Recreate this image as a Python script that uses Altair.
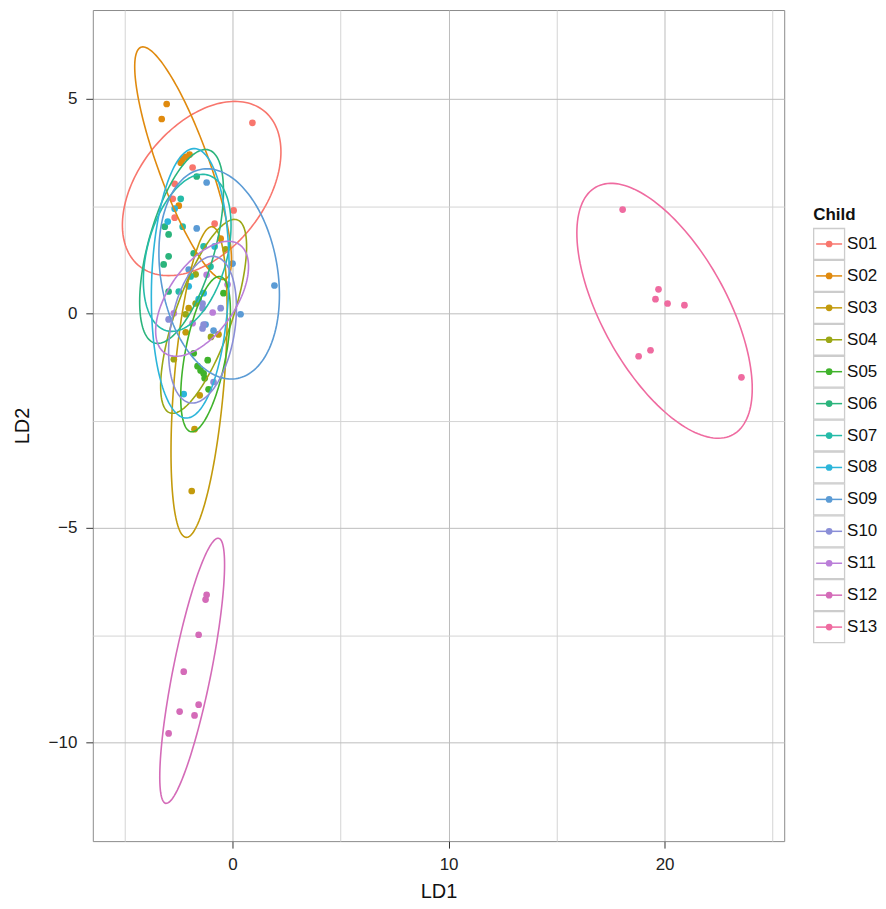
import altair as alt
import numpy as np
import pandas as pd

children = ["S01", "S02", "S03", "S04", "S05", "S06", "S07",
            "S08", "S09", "S10", "S11", "S12", "S13"]
colors = ["#F8766D", "#E08A0E", "#C39A0C", "#9BA715", "#40B32C", "#2BB47C", "#25BBA8",
          "#2CB5DA", "#5B9BD5", "#8A8ED7", "#BA7ED8", "#D46BB8", "#EF6BA0"]

# LD1 / LD2 scores per child
ld1_s01 = [0.92, -1.85, -2.68, -2.77, -2.68, -0.83, 0.05]
ld2_s01 = [4.44, 3.40, 3.02, 2.67, 2.23, 2.09, 2.40]
ld1_s02 = [-3.05, -3.28, -2.31, -1.99, -2.40, -2.17, -2.49, -0.55]
ld2_s02 = [4.88, 4.53, 3.60, 3.70, 3.51, 3.65, 2.51, 1.74]
ld1_s03 = [-1.89, -1.76, -1.52, -2.17, -0.65, -2.03]
ld2_s03 = [-4.14, -2.70, -1.91, -0.44, -0.49, 0.12]
ld1_s04 = [-2.72, -0.32, -1.71, -1.71, -2.17, -1.00]
ld2_s04 = [-1.07, 1.49, 0.91, 0.23, -0.02, -0.55]
ld1_s05 = [-1.80, -1.15, -1.62, -1.48, -1.34, -1.29, -1.11, -0.42]
ld2_s05 = [-0.93, -1.09, -1.23, -1.33, -1.40, -1.51, -1.77, 0.47]
ld1_s06 = [-1.66, -3.14, -2.96, -2.96, -1.80, -3.19, -2.96]
ld2_s06 = [3.19, 2.02, 1.84, 1.33, 1.40, 1.14, 0.51]
ld1_s07 = [-2.40, -2.31, -1.34, -1.02, -1.94, -2.49]
ld2_s07 = [2.67, 2.02, 1.56, 1.09, 0.86, 0.51]
ld1_s08 = [-2.68, -3.00, -0.83, -1.34, -1.57, -2.03, -2.26]
ld2_s08 = [2.44, 2.14, 1.56, 0.47, 0.33, 0.63, -1.88]
ld1_s09 = [-1.20, -1.66, -2.03, 0.00, 1.94, 0.37, -1.25, -0.88]
ld2_s09 = [3.05, 1.98, 1.02, 1.16, 0.65, -0.02, -0.26, -0.40]
ld1_s10 = [-1.39, -1.39, -0.55, -2.96, -1.34, -1.39, -0.88]
ld2_s10 = [0.23, 0.12, 0.12, -0.14, -0.26, -0.35, -1.60]
ld1_s11 = [-0.92, -2.72, -1.85, -0.23, -1.20]
ld2_s11 = [0.02, 0.00, -0.23, 0.67, 0.90]
ld1_s12 = [-1.20, -1.25, -1.57, -2.26, -1.57, -2.45, -1.76, -2.96]
ld2_s12 = [-6.56, -6.67, -7.49, -8.35, -9.12, -9.28, -9.37, -9.79]
ld1_s13 = [18.06, 19.72, 19.58, 20.14, 20.92, 19.35, 18.80, 23.56]
ld2_s13 = [2.42, 0.56, 0.33, 0.23, 0.19, -0.86, -1.00, -1.49]

# 95% ellipse parameters per child: centre, half-extent in LD1 / LD2, correlation
ell_cx = [-1.43, -2.29, -1.55, -1.34, -1.25, -2.36, -2.10, -1.96, -0.62, -1.39, -1.41, -1.87, 20.00]
ell_cy = [2.91, 3.50, -1.60, -0.07, -0.95, 1.56, 1.41, 0.70, 0.92, -0.38, 0.34, -8.33, 0.06]
ell_w = [3.67, 2.24, 1.30, 1.99, 1.15, 1.94, 2.03, 1.80, 2.79, 1.57, 2.15, 1.50, 4.06]
ell_h = [2.03, 2.71, 3.62, 2.26, 1.81, 2.26, 1.83, 3.14, 2.45, 1.71, 1.34, 3.09, 2.97]
ell_rho = [0.42, -0.83, 0.45, 0.72, 0.55, 0.57, 0.35, 0.10, -0.20, 0.30, 0.56, 0.80, -0.61]

ld1_all = [ld1_s01, ld1_s02, ld1_s03, ld1_s04, ld1_s05, ld1_s06, ld1_s07,
           ld1_s08, ld1_s09, ld1_s10, ld1_s11, ld1_s12, ld1_s13]
ld2_all = [ld2_s01, ld2_s02, ld2_s03, ld2_s04, ld2_s05, ld2_s06, ld2_s07,
           ld2_s08, ld2_s09, ld2_s10, ld2_s11, ld2_s12, ld2_s13]

rows = []
for c, xs, ys in zip(children, ld1_all, ld2_all):
    for a, b in zip(xs, ys):
        rows.append({"Child": c, "LD1": a, "LD2": b})
points = pd.DataFrame(rows)

t = np.linspace(0, 2 * np.pi, 161)
erows = []
for i, c in enumerate(children):
    r = ell_rho[i]
    ex = ell_cx[i] + ell_w[i] * np.cos(t)
    ey = ell_cy[i] + ell_h[i] * (r * np.cos(t) - np.sqrt(1 - r * r) * np.sin(t))
    for k in range(len(t)):
        erows.append({"Child": c, "LD1": float(ex[k]), "LD2": float(ey[k]), "idx": k})
ell = pd.DataFrame(erows)

FONT = "Liberation Sans"
color_scale = alt.Scale(domain=children, range=colors)
xscale = alt.Scale(domain=[-6.47, 25.54], nice=False, zero=False)
yscale = alt.Scale(domain=[-12.3, 7.07], nice=False, zero=False)

xaxis = alt.Axis(
    values=[-5, 0, 5, 10, 15, 20, 25],
    labelExpr="datum.value % 10 === 0 ? datum.label : ''",
    tickOpacity={"condition": {"test": "datum.value % 10 === 0", "value": 1}, "value": 0},
    gridColor={"condition": {"test": "datum.value % 10 === 0", "value": "#BDBDBD"}, "value": "#D4D4D4"},
    grid=True, gridWidth=1, domain=False, tickSize=7, tickColor="#333333", tickWidth=1,
    labelFont=FONT, labelFontSize=17, labelColor="#222222", labelPadding=8,
    titleFont=FONT, titleFontSize=20, titleFontWeight="normal", titleColor="#111111", titlePadding=10,
)
yaxis = alt.Axis(
    values=[-10, -7.5, -5, -2.5, 0, 2.5, 5],
    labelExpr="datum.value % 5 === 0 ? datum.label : ''",
    tickOpacity={"condition": {"test": "datum.value % 5 === 0", "value": 1}, "value": 0},
    gridColor={"condition": {"test": "datum.value % 5 === 0", "value": "#BDBDBD"}, "value": "#D4D4D4"},
    grid=True, gridWidth=1, domain=False, tickSize=7, tickColor="#333333", tickWidth=1,
    labelFont=FONT, labelFontSize=17, labelColor="#222222", labelPadding=9,
    titleFont=FONT, titleFontSize=20, titleFontWeight="normal", titleColor="#111111", titlePadding=16,
)

pts = alt.Chart(points).mark_circle(size=45, opacity=1).encode(
    x=alt.X("LD1:Q", scale=xscale, axis=xaxis, title="LD1"),
    y=alt.Y("LD2:Q", scale=yscale, axis=yaxis, title="LD2"),
    color=alt.Color("Child:N", scale=color_scale, legend=None),
)
ells = alt.Chart(ell).mark_line(strokeWidth=1.6).encode(
    x=alt.X("LD1:Q", scale=xscale),
    y=alt.Y("LD2:Q", scale=yscale),
    color=alt.Color("Child:N", scale=color_scale, legend=None),
    detail="Child:N",
    order="idx:Q",
)
main = alt.layer(pts, ells).properties(
    width=693, height=833,
    view=alt.ViewBackground(stroke="#8C8C8C", strokeWidth=1),
)

# legend panel
leg_df = pd.DataFrame({"Child": children})
ly = alt.Y("Child:N", scale=alt.Scale(type="point", domain=children, range=[234.5, 618.5], padding=0), axis=None)
lcolor = alt.Color("Child:N", scale=color_scale, legend=None)
boxes = alt.Chart(leg_df).mark_square(size=961, filled=True, fill="white", stroke="#CCCCCC", strokeWidth=1.3, opacity=1).encode(
    x=alt.value(16), y=ly)
lines = alt.Chart(leg_df).mark_rule(strokeWidth=1.5).encode(
    x=alt.value(3), x2=alt.value(29), y=ly, color=lcolor)
dots = alt.Chart(leg_df).mark_circle(size=45, opacity=1).encode(
    x=alt.value(16), y=ly, color=lcolor)
labels = alt.Chart(leg_df).mark_text(align="left", baseline="middle", font=FONT, fontSize=17, color="#111111").encode(
    x=alt.value(34), y=ly, text="Child:N")
title = alt.Chart(pd.DataFrame({"t": ["Child"]})).mark_text(
    align="left", baseline="middle", font=FONT, fontSize=17, fontWeight="bold", color="#111111").encode(
    x=alt.value(0), y=alt.value(205), text="t:N")
legend = alt.layer(boxes, lines, dots, labels, title).properties(
    width=58, height=833, view=alt.ViewBackground(stroke="transparent"))

chart = alt.hconcat(main, legend, spacing=25).properties(
    padding={"left": 3, "top": 0, "right": 0, "bottom": -2}
).configure(background="white")

chart.save("out.html", embed_options={"renderer": "svg", "actions": False})
